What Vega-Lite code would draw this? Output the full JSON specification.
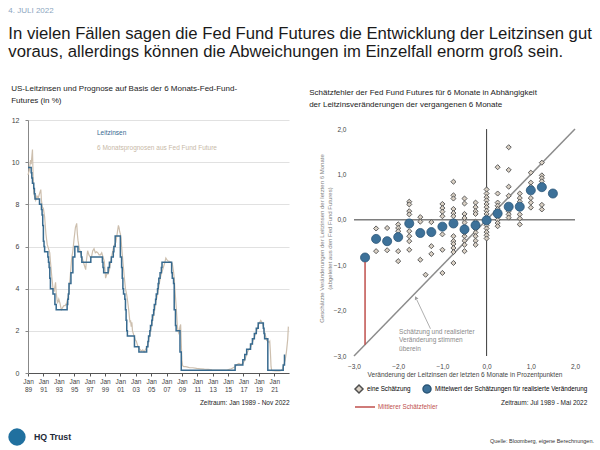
{
  "$schema": "https://vega.github.io/schema/vega-lite/v6.json",
  "background": "white",
  "padding": {"left": 8, "top": 7, "right": 5, "bottom": 5},
  "config": {"font": "Liberation Sans", "view": {"stroke": null}, "axis": {"labelOverlap": false}, "legend": {"layout": {"bottom": {"direction": "vertical", "anchor": "start", "margin": -3}}}},
  "title": {
    "text": "4. JULI 2022",
    "subtitle": ["In vielen Fällen sagen die Fed Fund Futures die Entwicklung der Leitzinsen gut", "voraus, allerdings können die Abweichungen im Einzelfall enorm groß sein."],
    "anchor": "start",
    "fontSize": 8,
    "fontWeight": "normal",
    "color": "#8ca6c0",
    "subtitleFontSize": 16.7,
    "subtitleColor": "#1a1a1a",
    "subtitleLineHeight": 18,
    "subtitlePadding": 11,
    "offset": 24
  },
  "datasets": {
    "policy": [{"d":"1989-01","v":9.75},{"d":"1989-06","v":9.5},{"d":"1989-07","v":9.25},{"d":"1989-08","v":9.0},{"d":"1989-10","v":8.75},{"d":"1989-11","v":8.5},{"d":"1989-12","v":8.25},{"d":"1990-07","v":8.0},{"d":"1990-10","v":7.75},{"d":"1990-11","v":7.5},{"d":"1990-12","v":7.0},{"d":"1991-01","v":6.25},{"d":"1991-02","v":6.0},{"d":"1991-03","v":5.75},{"d":"1991-08","v":5.5},{"d":"1991-09","v":5.25},{"d":"1991-10","v":5.0},{"d":"1991-11","v":4.5},{"d":"1991-12","v":4.0},{"d":"1992-04","v":3.75},{"d":"1992-07","v":3.25},{"d":"1992-09","v":3.0},{"d":"1994-02","v":3.25},{"d":"1994-03","v":3.5},{"d":"1994-04","v":3.75},{"d":"1994-05","v":4.25},{"d":"1994-08","v":4.75},{"d":"1994-11","v":5.5},{"d":"1995-02","v":6.0},{"d":"1995-07","v":5.75},{"d":"1995-12","v":5.5},{"d":"1996-01","v":5.25},{"d":"1997-03","v":5.5},{"d":"1998-09","v":5.25},{"d":"1998-10","v":5.0},{"d":"1998-11","v":4.75},{"d":"1999-06","v":5.0},{"d":"1999-08","v":5.25},{"d":"1999-11","v":5.5},{"d":"2000-02","v":5.75},{"d":"2000-03","v":6.0},{"d":"2000-05","v":6.5},{"d":"2001-01","v":5.5},{"d":"2001-03","v":5.0},{"d":"2001-04","v":4.5},{"d":"2001-05","v":4.0},{"d":"2001-06","v":3.75},{"d":"2001-08","v":3.5},{"d":"2001-09","v":3.0},{"d":"2001-10","v":2.5},{"d":"2001-11","v":2.0},{"d":"2001-12","v":1.75},{"d":"2002-11","v":1.25},{"d":"2003-06","v":1.0},{"d":"2004-06","v":1.25},{"d":"2004-08","v":1.5},{"d":"2004-09","v":1.75},{"d":"2004-11","v":2.0},{"d":"2004-12","v":2.25},{"d":"2005-02","v":2.5},{"d":"2005-03","v":2.75},{"d":"2005-05","v":3.0},{"d":"2005-06","v":3.25},{"d":"2005-08","v":3.5},{"d":"2005-09","v":3.75},{"d":"2005-11","v":4.0},{"d":"2005-12","v":4.25},{"d":"2006-01","v":4.5},{"d":"2006-03","v":4.75},{"d":"2006-05","v":5.0},{"d":"2006-06","v":5.25},{"d":"2007-09","v":4.75},{"d":"2007-10","v":4.5},{"d":"2007-12","v":4.25},{"d":"2008-01","v":3.0},{"d":"2008-03","v":2.25},{"d":"2008-04","v":2.0},{"d":"2008-10","v":1.0},{"d":"2008-12","v":0.125},{"d":"2015-12","v":0.375},{"d":"2016-12","v":0.625},{"d":"2017-03","v":0.875},{"d":"2017-06","v":1.125},{"d":"2017-12","v":1.375},{"d":"2018-03","v":1.625},{"d":"2018-06","v":1.875},{"d":"2018-09","v":2.125},{"d":"2018-12","v":2.375},{"d":"2019-08","v":2.125},{"d":"2019-09","v":1.875},{"d":"2019-10","v":1.625},{"d":"2020-03","v":0.125},{"d":"2022-03","v":0.375},{"d":"2022-05","v":0.875}],
    "forecast": [{"d":"1989-01","v":9.4},{"d":"1989-03","v":9.6},{"d":"1989-05","v":10.1},{"d":"1989-06","v":9.9},{"d":"1989-08","v":10.6},{"d":"1989-09","v":9.3},{"d":"1989-10","v":8.6},{"d":"1989-11","v":8.4},{"d":"1990-01","v":8.2},{"d":"1990-03","v":8.4},{"d":"1990-05","v":8.3},{"d":"1990-07","v":8.5},{"d":"1990-09","v":8.7},{"d":"1990-10","v":8.2},{"d":"1990-11","v":7.9},{"d":"1991-01","v":7.8},{"d":"1991-03","v":7.4},{"d":"1991-05","v":6.6},{"d":"1991-07","v":6.1},{"d":"1991-09","v":5.9},{"d":"1991-11","v":5.7},{"d":"1991-12","v":5.3},{"d":"1992-02","v":4.6},{"d":"1992-04","v":4.0},{"d":"1992-06","v":3.9},{"d":"1992-08","v":4.3},{"d":"1992-09","v":3.8},{"d":"1992-11","v":3.3},{"d":"1993-01","v":3.5},{"d":"1993-03","v":3.3},{"d":"1993-05","v":3.0},{"d":"1993-07","v":3.1},{"d":"1993-09","v":3.2},{"d":"1993-11","v":3.2},{"d":"1994-01","v":3.3},{"d":"1994-03","v":3.5},{"d":"1994-05","v":3.9},{"d":"1994-07","v":4.6},{"d":"1994-09","v":5.4},{"d":"1994-11","v":5.8},{"d":"1995-01","v":6.4},{"d":"1995-03","v":6.9},{"d":"1995-05","v":7.1},{"d":"1995-06","v":6.6},{"d":"1995-07","v":6.3},{"d":"1995-09","v":5.9},{"d":"1995-11","v":5.7},{"d":"1996-01","v":5.5},{"d":"1996-03","v":5.3},{"d":"1996-05","v":5.1},{"d":"1996-07","v":4.9},{"d":"1996-08","v":5.3},{"d":"1996-10","v":5.8},{"d":"1996-12","v":5.6},{"d":"1997-02","v":5.5},{"d":"1997-04","v":5.5},{"d":"1997-06","v":5.8},{"d":"1997-08","v":5.9},{"d":"1997-10","v":5.7},{"d":"1997-12","v":5.75},{"d":"1998-02","v":5.7},{"d":"1998-04","v":5.6},{"d":"1998-06","v":5.6},{"d":"1998-08","v":5.7},{"d":"1998-10","v":5.5},{"d":"1998-12","v":5.3},{"d":"1999-02","v":4.5},{"d":"1999-04","v":4.7},{"d":"1999-06","v":4.7},{"d":"1999-08","v":4.9},{"d":"1999-10","v":5.3},{"d":"1999-12","v":5.6},{"d":"2000-02","v":5.9},{"d":"2000-04","v":6.1},{"d":"2000-06","v":6.2},{"d":"2000-08","v":6.6},{"d":"2000-10","v":7.0},{"d":"2000-11","v":6.9},{"d":"2000-12","v":6.7},{"d":"2001-01","v":6.6},{"d":"2001-02","v":6.4},{"d":"2001-03","v":6.0},{"d":"2001-05","v":5.3},{"d":"2001-07","v":4.6},{"d":"2001-09","v":4.0},{"d":"2001-11","v":3.7},{"d":"2001-12","v":3.5},{"d":"2002-02","v":3.0},{"d":"2002-04","v":2.4},{"d":"2002-05","v":2.5},{"d":"2002-06","v":2.2},{"d":"2002-07","v":2.4},{"d":"2002-08","v":2.0},{"d":"2002-10","v":1.8},{"d":"2002-12","v":1.6},{"d":"2003-02","v":1.5},{"d":"2003-04","v":1.3},{"d":"2003-06","v":1.2},{"d":"2003-08","v":1.1},{"d":"2003-10","v":1.05},{"d":"2003-12","v":1.1},{"d":"2004-02","v":1.0},{"d":"2004-04","v":1.1},{"d":"2004-06","v":1.2},{"d":"2004-08","v":1.4},{"d":"2004-10","v":1.7},{"d":"2004-12","v":2.0},{"d":"2005-02","v":2.3},{"d":"2005-04","v":2.6},{"d":"2005-06","v":2.9},{"d":"2005-08","v":3.3},{"d":"2005-10","v":3.6},{"d":"2005-12","v":3.9},{"d":"2006-02","v":4.3},{"d":"2006-04","v":4.6},{"d":"2006-06","v":4.8},{"d":"2006-08","v":5.0},{"d":"2006-10","v":5.2},{"d":"2006-12","v":5.45},{"d":"2007-02","v":5.35},{"d":"2007-04","v":5.3},{"d":"2007-06","v":5.3},{"d":"2007-08","v":5.25},{"d":"2007-10","v":5.2},{"d":"2007-11","v":5.0},{"d":"2007-12","v":4.8},{"d":"2008-01","v":4.5},{"d":"2008-02","v":4.0},{"d":"2008-03","v":3.6},{"d":"2008-04","v":3.2},{"d":"2008-05","v":2.7},{"d":"2008-06","v":2.2},{"d":"2008-07","v":2.0},{"d":"2008-08","v":1.9},{"d":"2008-09","v":2.0},{"d":"2008-10","v":2.2},{"d":"2008-11","v":2.3},{"d":"2008-12","v":1.4},{"d":"2009-01","v":0.6},{"d":"2009-02","v":0.35},{"d":"2009-04","v":0.3},{"d":"2009-07","v":0.3},{"d":"2009-10","v":0.28},{"d":"2010-01","v":0.25},{"d":"2010-06","v":0.25},{"d":"2010-12","v":0.22},{"d":"2011-06","v":0.2},{"d":"2011-12","v":0.18},{"d":"2012-06","v":0.17},{"d":"2012-12","v":0.15},{"d":"2013-06","v":0.14},{"d":"2013-12","v":0.14},{"d":"2014-06","v":0.14},{"d":"2014-12","v":0.15},{"d":"2015-06","v":0.2},{"d":"2015-12","v":0.3},{"d":"2016-03","v":0.4},{"d":"2016-06","v":0.45},{"d":"2016-09","v":0.4},{"d":"2016-12","v":0.45},{"d":"2017-03","v":0.6},{"d":"2017-06","v":0.9},{"d":"2017-09","v":1.1},{"d":"2017-12","v":1.2},{"d":"2018-03","v":1.45},{"d":"2018-06","v":1.7},{"d":"2018-09","v":1.95},{"d":"2018-12","v":2.25},{"d":"2019-02","v":2.4},{"d":"2019-04","v":2.5},{"d":"2019-06","v":2.4},{"d":"2019-08","v":2.2},{"d":"2019-10","v":1.9},{"d":"2019-12","v":1.7},{"d":"2020-01","v":1.55},{"d":"2020-03","v":1.5},{"d":"2020-05","v":1.45},{"d":"2020-06","v":1.5},{"d":"2020-07","v":1.0},{"d":"2020-08","v":0.3},{"d":"2020-09","v":0.12},{"d":"2021-03","v":0.1},{"d":"2021-09","v":0.1},{"d":"2021-12","v":0.12},{"d":"2022-02","v":0.2},{"d":"2022-04","v":0.4},{"d":"2022-06","v":0.6},{"d":"2022-08","v":1.0},{"d":"2022-10","v":1.6},{"d":"2022-11","v":2.2}],
    "est": [{"x":-2.5,"y":-0.19},{"x":-2.5,"y":-0.69},{"x":-2.5,"y":-0.42},{"x":-2.25,"y":-0.18},{"x":-2.25,"y":-0.67},{"x":-2.25,"y":-0.47},{"x":-2.0,"y":-0.10},{"x":-2.0,"y":-0.18},{"x":-2.0,"y":-0.25},{"x":-2.0,"y":-0.69},{"x":-2.0,"y":-0.91},{"x":-2.0,"y":-0.38},{"x":-1.75,"y":0.40},{"x":-1.75,"y":0.34},{"x":-1.75,"y":0.19},{"x":-1.75,"y":0.12},{"x":-1.75,"y":-0.25},{"x":-1.75,"y":-0.36},{"x":-1.75,"y":-0.47},{"x":-1.75,"y":-0.66},{"x":-1.5,"y":0.06},{"x":-1.5,"y":-0.04},{"x":-1.5,"y":-0.88},{"x":-1.5,"y":-0.29},{"x":-1.38,"y":-1.21},{"x":-1.25,"y":-0.05},{"x":-1.25,"y":-0.58},{"x":-1.25,"y":-0.75},{"x":-1.25,"y":-0.27},{"x":-1.0,"y":0.35},{"x":-1.0,"y":0.26},{"x":-1.0,"y":0.18},{"x":-1.0,"y":0.08},{"x":-1.0,"y":-0.32},{"x":-1.0,"y":-0.66},{"x":-1.0,"y":-1.17},{"x":-0.75,"y":0.84},{"x":-0.75,"y":0.54},{"x":-0.75,"y":0.47},{"x":-0.75,"y":0.24},{"x":-0.75,"y":0.15},{"x":-0.75,"y":0.08},{"x":-0.75,"y":-0.36},{"x":-0.75,"y":-0.47},{"x":-0.75,"y":-0.53},{"x":-0.75,"y":-0.62},{"x":-0.75,"y":-0.71},{"x":-0.75,"y":-0.95},{"x":-0.5,"y":0.47},{"x":-0.5,"y":0.36},{"x":-0.5,"y":0.13},{"x":-0.5,"y":0.04},{"x":-0.5,"y":-0.06},{"x":-0.5,"y":-0.36},{"x":-0.5,"y":-0.46},{"x":-0.5,"y":-0.55},{"x":-0.5,"y":-0.69},{"x":-0.5,"y":-0.28},{"x":-0.25,"y":0.38},{"x":-0.25,"y":0.28},{"x":-0.25,"y":0.19},{"x":-0.25,"y":0.13},{"x":-0.25,"y":-0.04},{"x":-0.25,"y":-0.20},{"x":-0.25,"y":-0.28},{"x":-0.25,"y":-0.36},{"x":-0.25,"y":-0.46},{"x":-0.25,"y":-0.55},{"x":0,"y":0.67},{"x":0,"y":0.58},{"x":0,"y":0.50},{"x":0,"y":0.43},{"x":0,"y":0.35},{"x":0,"y":0.28},{"x":0,"y":0.20},{"x":0,"y":0.13},{"x":0,"y":0.06},{"x":0,"y":-0.12},{"x":0,"y":-0.19},{"x":0,"y":-0.27},{"x":0,"y":-0.34},{"x":0,"y":-0.41},{"x":0.25,"y":1.16},{"x":0.25,"y":0.58},{"x":0.25,"y":0.38},{"x":0.25,"y":0.31},{"x":0.25,"y":0.24},{"x":0.25,"y":0.06},{"x":0.25,"y":0.0},{"x":0.25,"y":-0.07},{"x":0.25,"y":-0.14},{"x":0.5,"y":1.60},{"x":0.5,"y":1.10},{"x":0.5,"y":0.73},{"x":0.5,"y":0.53},{"x":0.5,"y":0.19},{"x":0.5,"y":0.12},{"x":0.5,"y":0.05},{"x":0.75,"y":0.58},{"x":0.75,"y":0.48},{"x":0.75,"y":0.40},{"x":0.75,"y":0.12},{"x":0.75,"y":0.03},{"x":0.75,"y":-0.10},{"x":1.0,"y":1.04},{"x":1.0,"y":0.82},{"x":1.0,"y":0.73},{"x":1.0,"y":0.48},{"x":1.0,"y":0.38},{"x":1.0,"y":0.27},{"x":1.25,"y":1.26},{"x":1.25,"y":0.98},{"x":1.25,"y":0.92},{"x":1.25,"y":0.85},{"x":1.25,"y":0.33},{"x":1.25,"y":0.23}],
    "mean": [{"x":-2.75,"y":-0.83},{"x":-2.5,"y":-0.42},{"x":-2.25,"y":-0.47},{"x":-2.0,"y":-0.38},{"x":-1.75,"y":-0.08},{"x":-1.5,"y":-0.29},{"x":-1.25,"y":-0.27},{"x":-1.0,"y":-0.15},{"x":-0.75,"y":-0.08},{"x":-0.5,"y":-0.21},{"x":-0.25,"y":-0.12},{"x":0,"y":-0.01},{"x":0.25,"y":0.14},{"x":0.5,"y":0.29},{"x":0.75,"y":0.29},{"x":1.0,"y":0.65},{"x":1.25,"y":0.72},{"x":1.5,"y":0.58}]
  },
  "spacing": 17,
  "align": "none",
  "resolve": {"scale": {"color": "independent", "shape": "independent", "fill": "independent", "stroke": "independent", "strokeDash": "independent"}, "legend": {"color": "independent", "shape": "independent", "fill": "independent", "stroke": "independent", "strokeDash": "independent"}},
  "vconcat": [
    {
      "spacing": 18,
      "resolve": {"scale": {"color": "independent", "shape": "independent", "fill": "independent", "stroke": "independent", "strokeDash": "independent"}, "legend": {"color": "independent", "shape": "independent", "fill": "independent", "stroke": "independent", "strokeDash": "independent"}},
      "hconcat": [
        {
          "width": 261,
          "height": 253,
          "title": {"text": ["US-Leitzinsen und Prognose auf Basis der 6 Monats-Fed-Fund-", "Futures (in %)"], "anchor": "start", "fontSize": 8, "fontWeight": "normal", "color": "#1a1a1a", "lineHeight": 12, "offset": 11},
          "encoding": {
            "x": {
              "field": "d", "type": "temporal",
              "scale": {"domain": [599616000000, 1669852800000]},
              "axis": {
                "values": [599616000000, 662688000000, 725846400000, 788918400000, 852076800000, 915148800000, 978307200000, 1041379200000, 1104537600000, 1167609600000, 1230768000000, 1293840000000, 1356998400000, 1420070400000, 1483228800000, 1546300800000, 1609459200000],
                "labelExpr": "['Jan', utcFormat(datum.value, '%y')]",
                "grid": false, "domainColor": "#555", "tickColor": "#555", "tickSize": 3,
                "labelFontSize": 6.5, "labelColor": "#444", "labelPadding": 2, "labelLineHeight": 8,
                "labelFlush": false, "labelOverlap": false, "labelBound": false, "labelSeparation": 0,
                "title": "Zeitraum: Jan 1989 - Nov 2022", "titleFontSize": 6.5, "titleFontWeight": "normal", "titleColor": "#222", "titleAnchor": "end", "titlePadding": 7
              }
            },
            "y": {
              "field": "v", "type": "quantitative",
              "scale": {"domain": [0, 12], "nice": false},
              "axis": {"values": [0,2,4,6,8,10,12], "grid": true, "gridColor": "#d9d9d9", "gridWidth": 0.8, "domainColor": "#888", "tickColor": "#888", "tickSize": 3, "labelFontSize": 7, "labelColor": "#444", "labelPadding": 6, "title": null}
            }
          },
          "layer": [
            {
              "data": {"name": "forecast"},
              "mark": {"type": "line", "strokeWidth": 1.2},
              "encoding": {
                "color": {
                  "datum": "6 Monatsprognosen aus Fed Fund Future", "type": "nominal",
                  "scale": {"domain": ["Leitzinsen", "6 Monatsprognosen aus Fed Fund Future"], "range": ["#376a8f", "#cdbfae"]},
                  "legend": {
                    "orient": "top-left", "title": null, "offset": 8, "padding": 0,
                    "symbolOpacity": 0, "symbolType": "stroke", "symbolSize": 60,
                    "labelOffset": 51, "labelFontSize": 6.5, "rowPadding": 6,
                    "encode": {"labels": {"update": {"fill": {"signal": "datum.label === 'Leitzinsen' ? '#376a8f' : '#c8b9a7'"}}}}
                  }
                }
              }
            },
            {
              "data": {"name": "policy"},
              "mark": {"type": "line", "strokeWidth": 1.5, "interpolate": "step-after"},
              "encoding": {
                "color": {"datum": "Leitzinsen", "type": "nominal"}
              }
            }
          ]
        },
        {
          "width": 221,
          "height": 236,
          "data": {"values": [{}]},
          "title": {"text": ["Schätzfehler der Fed Fund Futures für 6 Monate in Abhängigkeit", "der Leitzinsveränderungen der vergangenen 6 Monate"], "anchor": "start", "fontSize": 8, "fontWeight": "normal", "color": "#1a1a1a", "lineHeight": 12, "offset": 11, "dx": -9},
          "layer": [
            {
              "mark": {"type": "rule", "color": "#3a3a3a", "strokeWidth": 1},
              "encoding": {
                "x": {
                  "datum": -3, "type": "quantitative",
                  "scale": {"domain": [-3, 2], "nice": false, "zero": false},
                  "axis": {
                    "values": [-3,-2,-1,0,1,2],
                    "labelExpr": "replace(format(datum.value, '.1f'), '.', ',')",
                    "domain": false, "ticks": false, "grid": false,
                    "labelFontSize": 6.5, "labelColor": "#444", "labelPadding": 7, "labelFlush": false,
                    "title": "Veränderung der Leitzinsen der letzten 6 Monate in Prozentpunkten",
                    "titleFontSize": 6.5, "titleFontWeight": "normal", "titleColor": "#444", "titlePadding": 2
                  }
                },
                "x2": {"datum": 2},
                "y": {
                  "datum": 0, "type": "quantitative",
                  "scale": {"domain": [-3, 2.2], "nice": false, "zero": false},
                  "axis": {
                    "values": [-3,-2.5,-2,-1.5,-1,-0.5,0,0.5,1,1.5,2],
                    "labelExpr": "replace(format(datum.value, '.1f'), '.', ',')",
                    "domain": false, "ticks": false, "grid": false,
                    "labelFontSize": 6.5, "labelColor": "#444", "labelPadding": 8,
                    "title": ["Geschätzte Veränderungen der Leitzinsen der letzten 6 Monate", "(abgeleitet aus den Fed Fund Futures)"],
                    "titleFontSize": 6, "titleFontWeight": "normal", "titleColor": "#808080", "titleLineHeight": 8, "titlePadding": 1
                  }
                }
              }
            },
            {
              "mark": {"type": "rule", "color": "#3a3a3a", "strokeWidth": 1},
              "encoding": {"x": {"datum": 0, "type": "quantitative"}, "y": {"datum": -3, "type": "quantitative"}, "y2": {"datum": 2}}
            },
            {
              "mark": {"type": "rule", "color": "#8c8c8c", "strokeWidth": 1.5},
              "encoding": {"x": {"datum": -3, "type": "quantitative"}, "y": {"datum": -3, "type": "quantitative"}, "x2": {"datum": 2}, "y2": {"datum": 2}}
            },
            {
              "mark": {"type": "rule", "color": "#9a9a9a", "strokeWidth": 0.8},
              "encoding": {"x": {"datum": -1.27, "type": "quantitative"}, "y": {"datum": -2.4, "type": "quantitative"}, "x2": {"datum": -1.58}, "y2": {"datum": -1.76}}
            },
            {
              "mark": {"type": "point", "shape": "triangle-up", "filled": true, "size": 16, "color": "#9a9a9a", "opacity": 1, "angle": 334},
              "encoding": {"x": {"datum": -1.6, "type": "quantitative"}, "y": {"datum": -1.72, "type": "quantitative"}}
            },
            {
              "mark": {"type": "text", "align": "left", "baseline": "top", "fontSize": 6.5, "color": "#8a8a8a", "lineHeight": 8.5},
              "encoding": {"x": {"datum": -1.98, "type": "quantitative"}, "y": {"datum": -2.4, "type": "quantitative"}, "text": {"value": ["Schätzung und realisierter", "Veränderung stimmen", "überein"]}}
            },
            {
              "data": {"name": "est"},
              "mark": {"type": "point", "filled": true, "size": 26, "strokeWidth": 0.9, "opacity": 1},
              "encoding": {
                "x": {"field": "x", "type": "quantitative"},
                "y": {"field": "y", "type": "quantitative"},
                "shape": {
                  "datum": "eine Schätzung", "type": "nominal",
                  "scale": {"domain": ["eine Schätzung", "Mittelwert der Schätzungen für realisierte Veränderung"], "range": ["diamond", "circle"]},
                  "legend": {
                    "orient": "bottom", "direction": "horizontal", "title": null,
                    "labelFontSize": 6.3, "labelLimit": 300, "labelOffset": 3, "offset": 6, "padding": 0, "columnPadding": 9,
                    "symbolSize": 64,
                    "encode": {
                      "symbols": {"update": {
                        "size": {"signal": "datum.index === 0 ? 30 : 95"},
                        "fill": {"signal": "datum.index === 0 ? '#d9d0c4' : '#3d7199'"},
                        "stroke": {"signal": "datum.index === 0 ? '#4f4f4f' : '#2b5677'"},
                        "strokeWidth": {"value": 1},
                        "opacity": {"value": 1}
                      }},
                      "labels": {"update": {"fill": {"signal": "datum.index === 0 ? '#c9bca9' : '#3d7199'"}}}
                    }
                  }
                },
                "fill": {
                  "datum": "eine Schätzung", "type": "nominal",
                  "scale": {"domain": ["eine Schätzung", "Mittelwert der Schätzungen für realisierte Veränderung"], "range": ["#d9d0c4", "#3d7199"]},
                  "legend": null
                },
                "stroke": {
                  "datum": "eine Schätzung", "type": "nominal",
                  "scale": {"domain": ["eine Schätzung", "Mittelwert der Schätzungen für realisierte Veränderung"], "range": ["#4f4f4f", "#2b5677"]},
                  "legend": null
                }
              }
            },
            {
              "data": {"name": "mean"},
              "mark": {"type": "point", "filled": true, "size": 82, "strokeWidth": 0.8, "opacity": 1},
              "encoding": {
                "x": {"field": "x", "type": "quantitative"},
                "y": {"field": "y", "type": "quantitative"},
                "shape": {"datum": "Mittelwert der Schätzungen für realisierte Veränderung", "type": "nominal"},
                "fill": {"datum": "Mittelwert der Schätzungen für realisierte Veränderung", "type": "nominal"},
                "stroke": {"datum": "Mittelwert der Schätzungen für realisierte Veränderung", "type": "nominal"}
              }
            },
            {
              "mark": {"type": "rule", "color": "#c0504d", "strokeWidth": 1.5},
              "encoding": {
                "x": {"datum": -2.75, "type": "quantitative"}, "y": {"datum": -2.75, "type": "quantitative"}, "y2": {"datum": -0.93},
                "strokeDash": {
                  "datum": "Mittlerer Schätzfehler", "type": "nominal",
                  "scale": {"domain": ["Mittlerer Schätzfehler"], "range": [[1, 0]]},
                  "legend": {
                    "orient": "bottom", "direction": "horizontal",
                    "title": "Zeitraum: Jul 1989 - Mai 2022", "titleOrient": "right", "titlePadding": 64, "titleAnchor": "middle",
                    "titleFontSize": 6.5, "titleFontWeight": "normal", "titleColor": "#222", "titleBaseline": "middle",
                    "labelFontSize": 6.3, "labelColor": "#c0504d", "labelOffset": 2, "padding": 0, "offset": 6,
                    "symbolType": "stroke", "symbolSize": 400, "symbolStrokeColor": "#c0504d", "symbolStrokeWidth": 1.5,
                    "encode": {"symbols": {"update": {"stroke": {"value": "#c0504d"}, "strokeDash": {"value": [1, 0]}}}}
                  }
                }
              }
            }
          ]
        }
      ]
    },
    {
      "width": 560,
      "height": 18,
      "data": {"values": [{}]},
      "layer": [
        {
          "mark": {"type": "point", "shape": "circle", "filled": true, "size": 300, "color": "#20709f", "opacity": 1},
          "encoding": {"x": {"datum": -11, "type": "quantitative", "scale": {"domain": [0, 560], "nice": false, "zero": false}, "axis": null}}
        },
        {
          "mark": {"type": "text", "align": "left", "fontSize": 8.8, "fontWeight": "bold", "color": "#1e2a38"},
          "encoding": {"x": {"datum": 6, "type": "quantitative"}, "text": {"value": "HQ Trust"}}
        },
        {
          "mark": {"type": "text", "align": "right", "fontSize": 5.5, "color": "#333", "dy": 4},
          "encoding": {"x": {"datum": 566, "type": "quantitative"}, "text": {"value": "Quelle: Bloomberg, eigene Berechnungen."}}
        }
      ]
    }
  ]
}
